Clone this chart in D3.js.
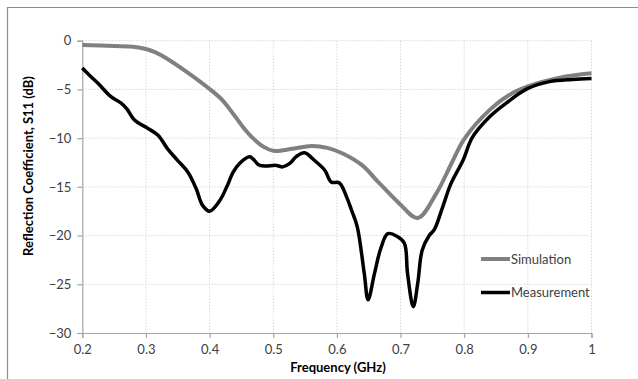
<!DOCTYPE html>
<html>
<head>
<meta charset="utf-8">
<script src="https://cdn.jsdelivr.net/npm/d3@7"></script>
<style>
  body { margin: 0; background: #fff; }
  svg { display: block; font-family: Lato, "Open Sans", sans-serif; }
</style>
</head>
<body>
<svg id="chart" width="638" height="379"></svg>
<script>
// values
var simFreq = [0.20, 0.25, 0.28, 0.30, 0.315, 0.332, 0.364, 0.385, 0.40, 0.42, 0.437, 0.453, 0.468, 0.485, 0.50, 0.53, 0.56, 0.585, 0.61, 0.64, 0.662, 0.698, 0.727, 0.756, 0.78, 0.80, 0.84, 0.87, 0.90, 0.95, 1.00];
var simS11  = [-0.45, -0.55, -0.62, -0.85, -1.2, -1.8, -3.2, -4.2, -4.95, -6.1, -7.5, -8.9, -10.0, -10.9, -11.3, -11.1, -10.8, -11.0, -11.6, -12.8, -14.3, -16.7, -18.2, -15.7, -12.6, -10.1, -7.1, -5.6, -4.7, -3.8, -3.35];

var measFreq = [0.200, 0.212, 0.225, 0.245, 0.261, 0.270, 0.282, 0.303, 0.319, 0.334, 0.350, 0.366, 0.379, 0.389, 0.400, 0.416, 0.427, 0.437, 0.447, 0.463, 0.479, 0.505, 0.515, 0.526, 0.536, 0.549, 0.565, 0.581, 0.591, 0.604, 0.615, 0.623, 0.632, 0.643, 0.649, 0.659, 0.669, 0.680, 0.695, 0.706, 0.711, 0.720, 0.727, 0.734, 0.745, 0.753, 0.766, 0.779, 0.798, 0.813, 0.840, 0.866, 0.900, 0.934, 0.970, 1.000];
var measS11  = [-2.8, -3.6, -4.4, -5.75, -6.4, -7.0, -8.15, -9.0, -9.7, -11.1, -12.3, -13.5, -15.2, -16.9, -17.5, -16.4, -15.0, -13.5, -12.6, -11.9, -12.8, -12.8, -12.95, -12.6, -11.9, -11.5, -12.3, -13.3, -14.5, -14.6, -16.0, -17.4, -19.1, -23.9, -26.6, -23.9, -21.3, -19.8, -20.1, -20.8, -23.9, -27.3, -24.9, -21.5, -20.0, -19.4, -17.1, -14.7, -12.3, -9.9, -7.8, -6.4, -4.9, -4.2, -3.97, -3.87];

var xTicks = [0.2, 0.3, 0.4, 0.5, 0.6, 0.7, 0.8, 0.9, 1];
var yTicks = [0, -5, -10, -15, -20, -25, -30];
var seriesNames = ["Simulation", "Measurement"];

var svg = d3.select('#chart');
var plotLeft = 82.3, plotRight = 591.5, plotTop = 40.7, plotBottom = 333;

var xs = d3.scaleLinear().domain([0.2, 1]).range([plotLeft, plotRight]);
var ys = d3.scaleLinear().domain([-30, 0]).range([plotBottom, plotTop]);

// outer frame (only top and left edges are visible)
svg.append('path')
    .attr('d', 'M7.5,379 V7.5 H638')
    .attr('fill', 'none')
    .attr('stroke', '#8c8c8c')
    .attr('stroke-width', 1.2);

// gridlines
var grid = svg.append('g');
grid.selectAll('line.gx').data(xTicks.slice(1)).enter().append('line')
    .attr('x1', function (d) { return xs(d); })
    .attr('x2', function (d) { return xs(d); })
    .attr('y1', plotTop).attr('y2', plotBottom)
    .attr('stroke', '#d9d9d9').attr('stroke-dasharray', '1.5,1.5');
grid.selectAll('line.gy').data(yTicks.slice(0, -1)).enter().append('line')
    .attr('y1', function (d) { return ys(d); })
    .attr('y2', function (d) { return ys(d); })
    .attr('x1', plotLeft).attr('x2', plotRight)
    .attr('stroke', '#d9d9d9').attr('stroke-dasharray', '1.5,1.5');

// axes
var xAxis = svg.append('g')
    .attr('transform', 'translate(0,' + plotBottom + ')')
    .call(d3.axisBottom(xs).tickValues(xTicks).tickSize(5).tickPadding(7)
        .tickFormat(function (d) { return d === 1 ? '1' : d3.format('.1f')(d); }));
var yAxis = svg.append('g')
    .attr('transform', 'translate(' + plotLeft + ',0)')
    .call(d3.axisLeft(ys).tickValues(yTicks).tickSize(5).tickPadding(6)
        .tickFormat(d3.format('d')));

[xAxis, yAxis].forEach(function (a) {
    a.select('.domain').attr('stroke', '#a6a6a6').attr('stroke-width', 1.2);
    a.selectAll('.tick line').attr('stroke', '#a6a6a6').attr('stroke-width', 1.2);
    a.selectAll('.tick text').attr('fill', '#404040').style('font-size', '13px')
        .style('font-family', 'Lato, "Open Sans", sans-serif');
});

// lines
var line = d3.line()
    .x(function (d) { return xs(d[0]); })
    .y(function (d) { return ys(d[1]); })
    .curve(d3.curveCatmullRom.alpha(0.5));

svg.append('path')
    .datum(d3.zip(simFreq, simS11))
    .attr('d', line)
    .attr('fill', 'none')
    .attr('stroke', '#808080')
    .attr('stroke-width', 4)
    .attr('stroke-linejoin', 'round');

svg.append('path')
    .datum(d3.zip(measFreq, measS11))
    .attr('d', line)
    .attr('fill', 'none')
    .attr('stroke', '#000')
    .attr('stroke-width', 3.5)
    .attr('stroke-linejoin', 'round');

// legend
var legend = svg.append('g').selectAll('g').data(seriesNames).enter().append('g')
    .attr('transform', function (d, i) { return 'translate(481,' + (259 + i * 33.5) + ')'; });
legend.append('line')
    .attr('x1', 0).attr('x2', 29).attr('y1', 0).attr('y2', 0)
    .attr('stroke', function (d, i) { return i === 0 ? '#808080' : '#000'; })
    .attr('stroke-width', function (d, i) { return i === 0 ? 4 : 3.5; });
legend.append('text')
    .attr('x', 30).attr('y', 4.5)
    .attr('fill', '#404040')
    .style('font-size', '13px')
    .text(function (d) { return d; });

// axis titles
svg.append('text')
    .attr('x', 338).attr('y', 372)
    .attr('text-anchor', 'middle')
    .attr('font-weight', 'bold')
    .attr('fill', '#000')
    .style('font-size', '13px')
    .text('Frequency (GHz)');

svg.append('text')
    .attr('transform', 'translate(33,166) rotate(-90)')
    .attr('text-anchor', 'middle')
    .attr('font-weight', 'bold')
    .attr('fill', '#000')
    .style('font-size', '13px')
    .text('Reflection Coefficient, S11 (dB)');
</script>
</body>
</html>
